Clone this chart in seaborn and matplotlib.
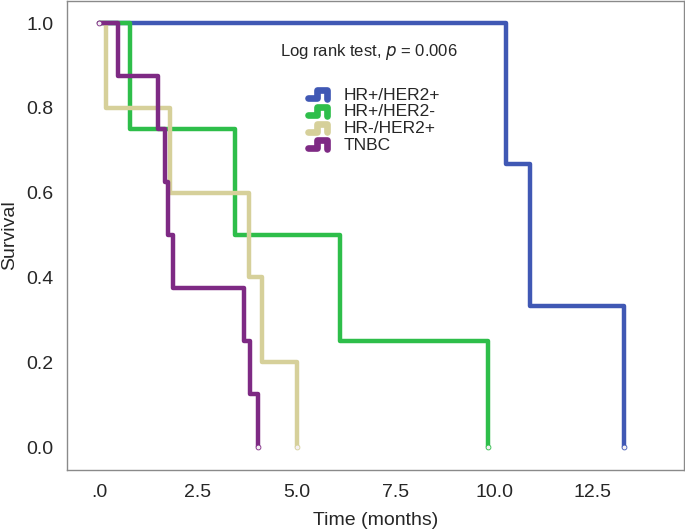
import numpy as np
import pandas as pd
import matplotlib
matplotlib.use("Agg")
import matplotlib.pyplot as plt
from matplotlib.lines import Line2D
from matplotlib.legend_handler import HandlerBase
import seaborn as sns

# Kaplan-Meier steps (time in months, survival after the step)
groups = ["HR+/HER2+", "HR+/HER2-", "HR-/HER2+", "TNBC"]
times = {
    "HR+/HER2+": [0.0, 10.3, 10.9, 13.3],
    "HR+/HER2-": [0.0, 0.78, 3.45, 6.1, 9.85],
    "HR-/HER2+": [0.0, 0.18, 1.8, 3.8, 4.13, 5.0],
    "TNBC": [0.0, 0.49, 1.5, 1.67, 1.75, 1.86, 3.68, 3.82, 4.02],
}
surv = {
    "HR+/HER2+": [1.0, 0.667, 0.333, 0.0],
    "HR+/HER2-": [1.0, 0.75, 0.5, 0.25, 0.0],
    "HR-/HER2+": [1.0, 0.8, 0.6, 0.4, 0.2, 0.0],
    "TNBC": [1.0, 0.875, 0.75, 0.625, 0.5, 0.375, 0.25, 0.125, 0.0],
}
colors = ["#4058B4", "#2EBE4A", "#D6D09A", "#7E2A84"]
xticks = [0, 2.5, 5.0, 7.5, 10.0, 12.5]
xticklabels = [".0", "2.5", "5.0", "7.5", "10.0", "12.5"]
yticks = [0.0, 0.2, 0.4, 0.6, 0.8, 1.0]

rows = []
for g in groups:
    for t, s in zip(times[g], surv[g]):
        rows.append({"time": t, "survival": s, "group": g})
df = pd.DataFrame(rows)

sns.set_style("white")
plt.rcParams["font.family"] = ["Liberation Sans", "DejaVu Sans"]

fig = plt.figure(figsize=(6.85, 5.31), dpi=100)
ax = fig.add_axes([0.098, 0.115, 0.9, 0.883])

palette = dict(zip(groups, colors))
sns.lineplot(data=df, x="time", y="survival", hue="group", palette=palette,
             estimator=None, sort=True, drawstyle="steps-post", linewidth=3.2,
             legend=False, ax=ax)

# censor marks at start / end of each curve
for g in groups:
    ax.plot([times[g][-1]], [0.0], "o", ms=3.5, mfc="#f4f0f4", mec=palette[g],
            mew=0.6, zorder=5)
ax.plot([0], [1.0], "o", ms=3.5, mfc="#f4f0f4", mec=palette["TNBC"], mew=0.6, zorder=5)

ax.set_xlim(-0.81, 14.8)
ax.set_ylim(-0.054, 1.052)
ax.set_xticks(xticks)
ax.set_xticklabels(xticklabels)
ax.set_yticks(yticks)
ax.set_yticklabels([f"{v:.1f}" for v in yticks])
ax.tick_params(axis="both", direction="out", length=5, width=0.8, color="#808080",
               labelsize=14, pad=5)
for sp in ax.spines.values():
    sp.set_color("#8a8a8a")
    sp.set_linewidth(1.0)
ax.set_xlabel("Time (months)", fontsize=14, labelpad=8)
ax.set_ylabel("Survival", fontsize=14, labelpad=6)

ax.text(4.58, 0.932, "Log rank test, $p$ = 0.006", fontsize=12, va="center", ha="left")


class StepHandler(HandlerBase):
    def create_artists(self, legend, orig_handle, xdescent, ydescent, width, height,
                       fontsize, trans):
        w, h = width, height
        xs = [-xdescent + 0.08 * w, -xdescent + 0.5 * w, -xdescent + 0.5 * w,
              -xdescent + 0.92 * w, -xdescent + 0.92 * w]
        ys = [-ydescent + 0.12 * h, -ydescent + 0.12 * h, -ydescent + 0.78 * h,
              -ydescent + 0.78 * h, -ydescent + 0.08 * h]
        line = Line2D(xs, ys, color=orig_handle.get_color(), linewidth=4.8,
                      solid_capstyle="round", solid_joinstyle="round")
        line.set_transform(trans)
        return [line]


handles = [Line2D([], [], color=c) for c in colors]
ax.legend(handles, groups, handler_map={Line2D: StepHandler()}, loc="upper left",
          bbox_to_anchor=(0.387, 0.815), frameon=False, fontsize=12.5,
          handlelength=1.35, handletextpad=0.85, labelspacing=0.08,
          borderpad=0, borderaxespad=0)

fig.savefig("out.png", dpi=100)
